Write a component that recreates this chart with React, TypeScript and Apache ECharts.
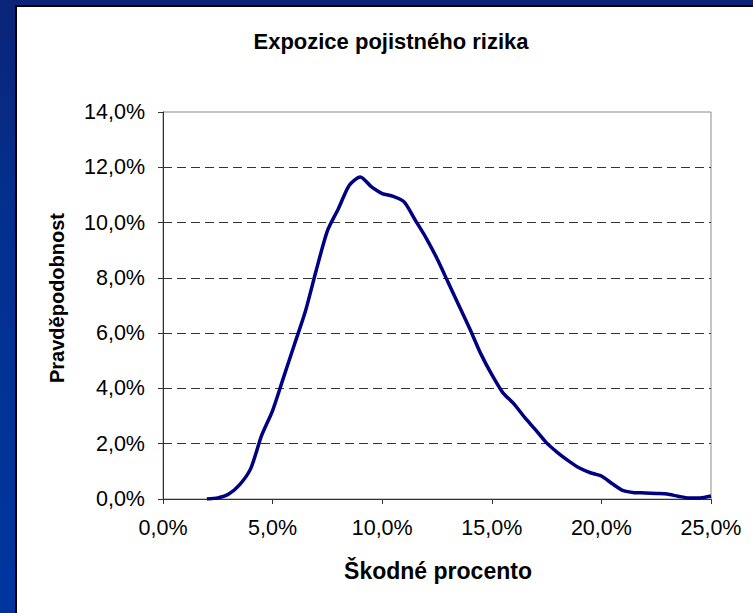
import React, { useEffect, useRef } from "react";
import * as echarts from "echarts";

// Loss ratio (%) sampled every 0.5 %
const lossRatio: number[] = [
  2.0, 2.5, 3.0, 3.5, 4.0, 4.5, 5.0, 5.5, 6.0, 6.5, 7.0, 7.5, 8.0, 8.5, 9.0,
  9.5, 10.0, 10.5, 11.0, 11.5, 12.0, 12.5, 13.0, 13.5, 14.0, 14.5, 15.0, 15.5,
  16.0, 16.5, 17.0, 17.5, 18.0, 18.5, 19.0, 19.5, 20.0, 20.5, 21.0, 21.5, 22.0,
  22.5, 23.0, 23.5, 24.0, 24.5, 25.0,
];

// Probability (%) for each loss ratio
const probability: number[] = [
  0.0, 0.04, 0.18, 0.52, 1.1, 2.3, 3.2, 4.4, 5.6, 6.8, 8.3, 9.7, 10.5, 11.35,
  11.65, 11.3, 11.05, 10.95, 10.75, 10.1, 9.45, 8.7, 7.85, 7.0, 6.15, 5.25, 4.5,
  3.85, 3.45, 2.95, 2.5, 2.03, 1.68, 1.38, 1.12, 0.95, 0.83, 0.55, 0.3, 0.23,
  0.22, 0.2, 0.18, 0.1, 0.04, 0.04, 0.11,
];

const title = "Expozice pojistného rizika";
const xName = "Škodné procento";
const yName = "Pravděpodobnost";

const pct = (v: number) => v.toFixed(1).replace(".", ",") + "%";

export default function App() {
  const ref = useRef<HTMLDivElement>(null);

  useEffect(() => {
    if (!ref.current) return;
    const chart = echarts.init(ref.current, null, { renderer: "svg" });
    const font = "'Liberation Sans', Arial, sans-serif";
    chart.setOption({
      animation: false,
      backgroundColor: "transparent",
      textStyle: { fontFamily: font },
      grid: {
        left: 163,
        top: 112,
        right: 42,
        bottom: 114,
        show: true,
        backgroundColor: "#ffffff",
        borderColor: "#8a8a8a",
        borderWidth: 1,
      },
      xAxis: {
        type: "value",
        min: 0,
        max: 25,
        interval: 5,
        axisLine: { show: true, onZero: false, lineStyle: { color: "#333", width: 1 } },
        axisTick: { show: true, length: 5, lineStyle: { color: "#333" } },
        splitLine: { show: false },
        axisLabel: {
          formatter: pct,
          color: "#000",
          fontSize: 21.5,
          fontFamily: font,
          margin: 18,
        },
      },
      yAxis: {
        type: "value",
        min: 0,
        max: 14,
        interval: 2,
        axisLine: { show: true, lineStyle: { color: "#333", width: 1 } },
        axisTick: { show: true, length: 5, lineStyle: { color: "#333" } },
        splitLine: {
          show: true,
          showMinLine: false,
          showMaxLine: false,
          lineStyle: { color: "#333", width: 1, type: [9, 5] },
        },
        axisLabel: {
          formatter: pct,
          color: "#000",
          fontSize: 21.5,
          fontFamily: font,
          margin: 18,
        },
      },
      graphic: [
        {
          type: "text",
          x: 391,
          y: 41,
          style: {
            text: title,
            fill: "#000",
            font: `bold 22px ${font}`,
            textAlign: "center",
            textVerticalAlign: "middle",
          },
        },
        {
          type: "text",
          x: 438,
          y: 571,
          style: {
            text: xName,
            fill: "#000",
            font: `bold 23px ${font}`,
            textAlign: "center",
            textVerticalAlign: "middle",
          },
        },
        {
          type: "text",
          x: 57,
          y: 298,
          rotation: Math.PI / 2,
          style: {
            text: yName,
            fill: "#000",
            font: `bold 20px ${font}`,
            textAlign: "center",
            textVerticalAlign: "middle",
          },
        },
      ],
      series: [
        {
          type: "line",
          data: lossRatio.map((x, i) => [x, probability[i]]),
          showSymbol: false,
          smooth: 0.25,
          lineStyle: { color: "#000080", width: 3.5 },
          itemStyle: { color: "#000080" },
        },
      ],
    });
    return () => chart.dispose();
  }, []);

  return (
    <div
      style={{
        position: "fixed",
        left: 0,
        top: 0,
        width: 753,
        height: 613,
        overflow: "hidden",
        background: "linear-gradient(180deg, #0a2478 0%, #03308f 35%, #0035a0 100%)",
      }}
    >
      <div
        style={{
          position: "absolute",
          left: 15,
          top: 5,
          right: 0,
          bottom: 0,
          background: "#ffffff",
          borderLeft: "2px solid #000",
          borderTop: "2px solid #000",
        }}
      />
      <div
        ref={ref}
        style={{ position: "absolute", left: 0, top: 0, width: 753, height: 613 }}
      />
    </div>
  );
}
